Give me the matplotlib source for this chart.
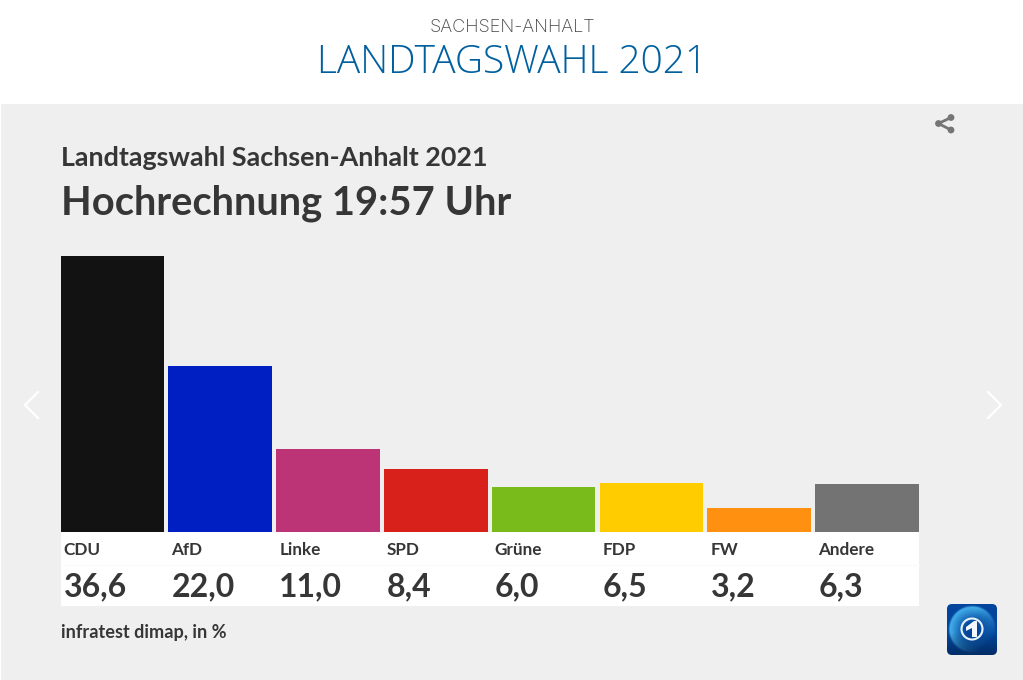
import numpy as np
import matplotlib
matplotlib.use('Agg')
import matplotlib.pyplot as plt
from matplotlib.patches import Rectangle, FancyBboxPatch, Circle, Polygon

parties = ['CDU', 'AfD', 'Linke', 'SPD', 'Grüne', 'FDP', 'FW', 'Andere']
values = [36.6, 22.0, 11.0, 8.4, 6.0, 6.5, 3.2, 6.3]
value_labels = ['36,6', '22,0', '11,0', '8,4', '6,0', '6,5', '3,2', '6,3']
colors = ['#121212', '#001fc2', '#bc3475', '#d9211c', '#78bb1a', '#ffcc00', '#ff9010', '#737374']

W, H = 1023, 680
DARK = '#363636'
BAR_W = 0.96
plt.rcParams['font.family'] = ['Lato', 'DejaVu Sans']

fig = plt.figure(figsize=(W / 100, H / 100), dpi=100, facecolor='white')

# pixel canvas for the page furniture, y runs downwards like in the screenshot
bg = fig.add_axes([0, 0, 1, 1], zorder=0)
bg.set_xlim(0, W)
bg.set_ylim(H, 0)
bg.axis('off')
bg.add_patch(Rectangle((1, 104), W - 1, H - 104, fc='#efefef', ec='none'))
bg.add_patch(Rectangle((61, 532), 858, 74, fc='white', ec='none'))
bg.plot([61, 919], [565, 565], color='#fbfbfb', lw=1)

bg.text(512, 32, 'SACHSEN-ANHALT', ha='center', va='baseline', fontsize=13,
        color='#444444', family='Inter', fontweight='light')
bg.text(512.5, 73, 'LANDTAGSWAHL 2021', ha='center', va='baseline', fontsize=28,
        color='#00609f', family='Open Sans', fontweight='light')
bg.text(61, 166, 'Landtagswahl Sachsen-Anhalt 2021', ha='left', va='baseline',
        fontsize=19.4, fontweight='bold', color=DARK)
bg.text(61, 215, 'Hochrechnung 19:57 Uhr', ha='left', va='baseline',
        fontsize=28.7, fontweight='bold', color=DARK)
bg.text(61, 638, 'infratest dimap, in %', ha='left', va='baseline',
        fontsize=13.1, fontweight='bold', color=DARK)

# share icon
bg.plot([951, 938.5, 951], [117.5, 123.5, 130], color='#757575', lw=2)
for px, py in [(938.5, 123.5), (951, 117.5), (951, 130)]:
    bg.add_patch(Circle((px, py), 3.4, fc='#757575', ec='none'))

# prev / next chevrons
bg.plot([38, 25, 38], [392, 405, 418], color='white', lw=1.6)
bg.plot([988, 1001, 988], [392, 405, 418], color='white', lw=1.6)

# Tagesschau logo: dark blue tile with a lit globe behind the ring
yy, xx = np.mgrid[0:102, 0:100] / 2.0
r = np.hypot(xx - 25, yy - 25)
lit = np.clip((r - 6) / 17, 0, 1) * np.clip((24 - r) / 2, 0, 1)
side = np.clip(0.75 - (xx + yy - 45) / 45, 0, 1)
grad = lit * side
c0 = np.array([0x03, 0x45, 0x9c]) / 255
c1 = np.array([0x45, 0xb4, 0xee]) / 255
logo = c0 + (c1 - c0) * grad[..., None]
logo = logo * (1 - 0.35 * np.clip((yy - 28) / 23, 0, 1))[..., None]
im = bg.imshow(logo, extent=(947, 997, 655, 604), zorder=2, aspect='auto')
box = FancyBboxPatch((950, 607), 44, 45, boxstyle='round,pad=3,rounding_size=5',
                     fc='none', ec='none', transform=bg.transData)
bg.add_patch(box)
im.set_clip_path(box)
bg.set_xlim(0, W)
bg.set_ylim(H, 0)
bg.add_patch(Circle((972, 629), 10.5, fc='none', ec='#e8f4fb', lw=1.5, zorder=3))
bg.add_patch(Polygon([(966, 627), (974, 621), (977, 621), (977, 637), (972, 637),
                      (972, 628), (966, 631)], fc='#f2f9fd', ec='none', zorder=3))

# bars
ax = fig.add_axes([60.7 / W, (H - 532) / H, 858 / W, 276.5 / H], zorder=1)
ax.patch.set_alpha(0)
x = np.arange(len(parties))
ax.bar(x, values, width=BAR_W, color=colors)
ax.set_xlim(-BAR_W / 2, len(parties) - 1 + BAR_W / 2)
ax.set_ylim(0, 36.6)
ax.axis('off')

# labels under each bar, same x scale as the bars
trans = ax.get_xaxis_transform()
for i in x:
    left = i - BAR_W / 2 + 3 / 107.8
    ax.text(left, -23 / 276.5, parties[i], transform=trans, ha='left', va='baseline',
            fontsize=12.3, fontweight='bold', color=DARK, clip_on=False)
    ax.text(left, -64 / 276.5, value_labels[i], transform=trans, ha='left', va='baseline',
            fontsize=23, fontweight='bold', color=DARK, clip_on=False)

fig.savefig('out.png', dpi=100)
